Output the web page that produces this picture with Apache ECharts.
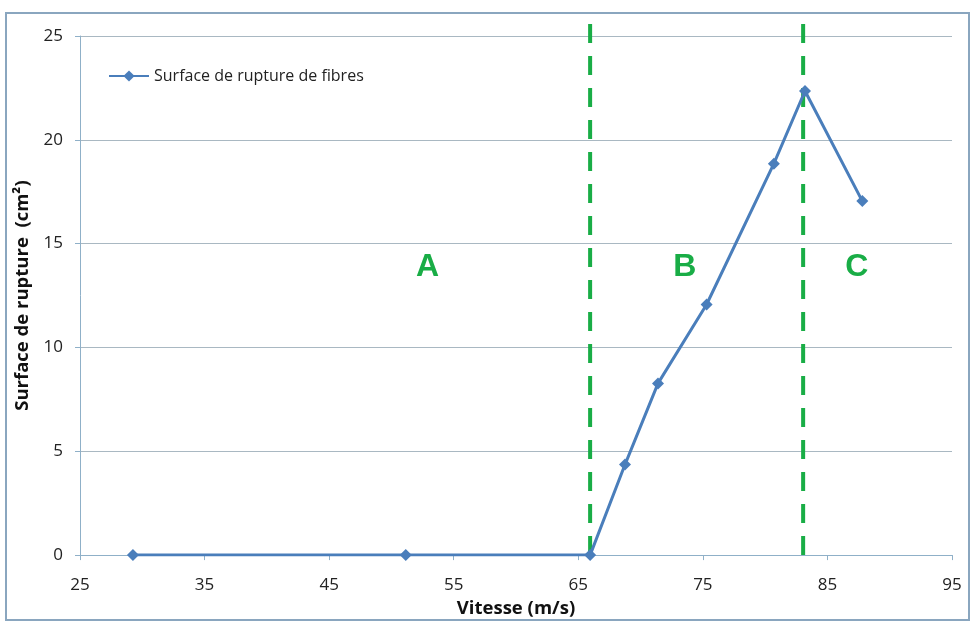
<!DOCTYPE html>
<html><head><meta charset="utf-8">
<script src="https://cdn.jsdelivr.net/npm/echarts@6/dist/echarts.min.js"></script>
<style>html,body{margin:0;padding:0;background:#fff}#c{width:972px;height:623px}</style>
</head><body><div id="c"></div>
<script>
const seriesName = 'Surface de rupture de fibres';
const vitesse = [29.25, 51.15, 65.95, 68.75, 71.4, 75.3, 80.7, 83.2, 87.8];
const surface = [0, 0, 0, 4.36, 8.27, 12.07, 18.85, 22.35, 17.05];
const boundaries = [65.95, 83.05];
const zoneLabels = ['A', 'B', 'C'];
const zoneX = [52.9, 73.55, 87.35];
const zoneY = 13.85;
const xTicks = [25, 35, 45, 55, 65, 75, 85, 95];
const yTicks = [0, 5, 10, 15, 20, 25];

const green = '#19ad46';
const blue = '#4a7ebb';
const font = '"Open Sans", "Noto Sans", sans-serif';

const chart = echarts.init(document.getElementById('c'));
const series = [{
  name: seriesName, type: 'line',
  data: vitesse.map((v, i) => [v, surface[i]]),
  symbol: 'diamond', symbolSize: 12,
  lineStyle: {color: blue, width: 3},
  itemStyle: {color: blue},
  z: 5
}];
boundaries.forEach(b => series.push({
  type: 'line', silent: true, clip: false, showSymbol: false, symbol: 'none',
  data: [[b, 0], [b, 25.68]],
  lineStyle: {color: green, width: 4, type: [19, 13]},
  z: 3
}));
series.push({
  type: 'scatter', silent: true, symbolSize: 0,
  itemStyle: {opacity: 1, color: green},
  data: zoneLabels.map((l, i) => ({value: [zoneX[i], zoneY], name: l})),
  label: {show: true, position: 'inside', formatter: p => p.name, opacity: 1,
    color: green, fontSize: 32, fontWeight: 'bold', fontFamily: '"Liberation Sans", Arial, sans-serif'},
  z: 6
});

chart.setOption({
  animation: false,
  graphic: [{type: 'rect', shape: {x: 6, y: 13, width: 963, height: 607},
    style: {fill: 'none', stroke: '#8aa6bf', lineWidth: 2}, silent: true}],
  grid: {left: 80, right: 20, top: 36, bottom: 67, containLabel: false},
  legend: {
    data: [{name: seriesName}], left: 103, top: 63,
    itemWidth: 40, itemHeight: 14, itemGap: 4,
    textStyle: {fontFamily: font, fontSize: 16, color: '#222'}
  },
  xAxis: {
    type: 'value', min: 25, max: 95, interval: 10,
    name: 'Vitesse (m/s)', nameLocation: 'middle', nameGap: 43,
    nameTextStyle: {fontFamily: font, fontSize: 18.5, fontWeight: 'bold', color: '#111'},
    axisLine: {lineStyle: {color: '#8fb0c8', width: 1}},
    axisTick: {show: true, length: 5, lineStyle: {color: '#8fb0c8'}},
    axisLabel: {fontFamily: font, fontSize: 17, color: '#222', margin: 22},
    splitLine: {show: false}
  },
  yAxis: {
    type: 'value', min: 0, max: 25, interval: 5,
    name: 'Surface de rupture  (cm²)', nameLocation: 'middle', nameGap: 48, nameRotate: 90,
    nameTextStyle: {fontFamily: font, fontSize: 18.5, fontWeight: 'bold', color: '#111'},
    axisLine: {show: true, lineStyle: {color: '#8fb0c8', width: 1}},
    axisTick: {show: true, length: 5, lineStyle: {color: '#8fb0c8'}},
    axisLabel: {fontFamily: font, fontSize: 17, color: '#222', margin: 17},
    splitLine: {show: true, lineStyle: {color: '#a9b8c2', width: 1}}
  },
  series: series
});
</script></body></html>
